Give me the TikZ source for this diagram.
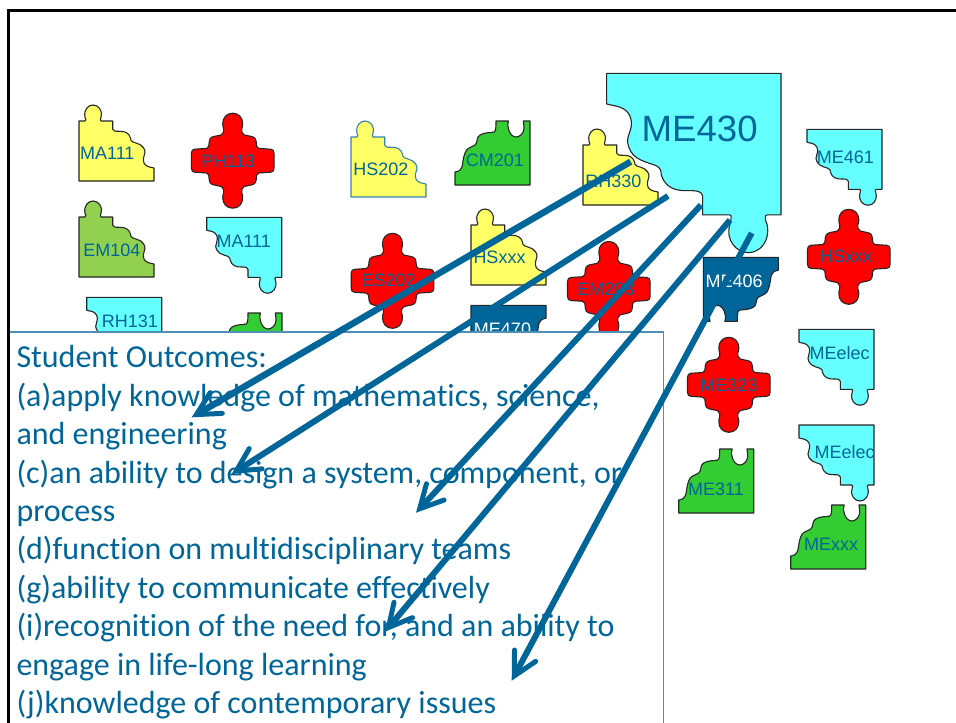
\documentclass[tikz,border=0pt]{standalone}
\usepackage{fontspec}
\setmainfont{Liberation Sans}
\newfontfamily\bodyfont[Ligatures=NoCommon]{Carlito}
\usetikzlibrary{arrows.meta}
\definecolor{labelblue}{HTML}{006699}
\definecolor{boxline}{HTML}{4F8FB5}
\definecolor{pyellow}{HTML}{FFFF66}
\definecolor{pcyan}{HTML}{66FFFF}
\definecolor{pgreen}{HTML}{33CC33}
\definecolor{polive}{HTML}{92D050}
\definecolor{pred}{HTML}{FF0000}
\newcommand{\stepknobpath}{(0,0) -- (0,60) -- (6,60) .. controls (7,60) and (7,62) .. (6,64) .. controls (4.5,71) and (9,76) .. (14,76) .. controls (19,76) and (24,71) .. (22,64) .. controls (21.5,62) and (21,60) .. (22,60) -- (33.7,60) -- (33.7,52) .. controls (34,50) and (36,49.7) .. (40,49.7) .. controls (46,50) and (50,48) .. (51.5,43) .. controls (51.5,41) and (52,40) .. (54,39) .. controls (60,37) and (65,36) .. (66,29) .. controls (66,25) and (63,23) .. (65,18) .. controls (67,14) and (71,14) .. (75,13) -- (75,0) -- cycle}
\newcommand{\stepnotchpath}{(0,0) -- (0,13) .. controls (4,13.5) and (6,15) .. (7,18) .. controls (8,22) and (8,27) .. (10,32) .. controls (11,37) and (17,38) .. (20,40) .. controls (23,42) and (21,48) .. (25,50) .. controls (30,53) and (36,52) .. (39,53) .. controls (41,54) and (41,58) .. (41,64) -- (53.5,64) .. controls (53,62) and (52.5,60) .. (53,58) .. controls (54,51) and (58,48) .. (61,48) .. controls (65,48) and (69,52) .. (69,57) .. controls (69,60) and (68.5,62) .. (68.3,64) -- (75,64) -- (75,0) -- cycle}
\newcommand{\crosspath}{(0,47.5) .. controls (6,47.5) and (10,43) .. (10,37) .. controls (10,32) and (8,32) .. (9,29) .. controls (10,26) and (12,25) .. (15,25) .. controls (20,24) and (23,24) .. (23.5,19) .. controls (24,15) and (23.5,13) .. (26,12.3) -- (38,11.5) .. controls (40,11.5) and (41.3,10) .. (41.3,7.5) -- (41.3,0) -- (41.3,-7.5) .. controls (41.3,-10) and (40,-11.5) .. (38,-11.5) -- (26,-12.3) .. controls (23.5,-13) and (24,-15) .. (23.5,-19) .. controls (23,-24) and (20,-24) .. (15,-25) .. controls (12,-25) and (10,-26) .. (9,-29) .. controls (8,-32) and (10,-32) .. (10,-37) .. controls (10,-43) and (6,-47.5) .. (0,-47.5) .. controls (-6,-47.5) and (-10,-43) .. (-10,-37) .. controls (-10,-32) and (-8,-32) .. (-9,-29) .. controls (-10,-26) and (-12,-25) .. (-15,-25) .. controls (-20,-24) and (-23,-24) .. (-23.5,-19) .. controls (-24,-15) and (-23.5,-13) .. (-26,-12.3) -- (-38,-11.5) .. controls (-40,-11.5) and (-41.3,-10) .. (-41.3,-7.5) -- (-41.3,0) -- (-41.3,7.5) .. controls (-41.3,10) and (-40,11.5) .. (-38,11.5) -- (-26,12.3) .. controls (-23.5,13) and (-24,15) .. (-23.5,19) .. controls (-23,24) and (-20,24) .. (-15,25) .. controls (-12,25) and (-10,26) .. (-9,29) .. controls (-8,32) and (-10,32) .. (-10,37) .. controls (-10,43) and (-6,47.5) .. (0,47.5) -- cycle}
% piece placers: #1 left, #2 top, #3 style
\newcommand{\knobup}[3]{\draw[piece,#3,shift={(#1,#2+76)},yscale=-1] \stepknobpath;}
\newcommand{\knobdown}[3]{\draw[piece,#3,shift={(#1+75,#2)},xscale=-1] \stepknobpath;}
\newcommand{\notchup}[3]{\draw[piece,#3,shift={(#1,#2+64)},yscale=-1] \stepnotchpath;}
\newcommand{\notchdown}[3]{\draw[piece,#3,shift={(#1+75,#2)},xscale=-1] \stepnotchpath;}
\newcommand{\crossat}[2]{\draw[piece,fill=pred,shift={(#1,#2)}] \crosspath;}
\tikzset{
  piece/.style={draw=black!85,line width=1.1pt,line join=round},
  plabel/.style={text=labelblue,font=\fontsize{18}{20}\selectfont,inner sep=0pt},
  outcome/.style={draw=labelblue,line width=#1,-{Straight Barb[length=23pt,width=24pt,line width=5pt,line cap=round,line join=miter]}},
  outcome/.default=6pt,
}
\begin{document}
\begin{tikzpicture}[x=1pt,y=-1pt]
\useasboundingbox (0,0) rectangle (956,723);
\fill[white] (0,0) rectangle (956,723);
\draw[black,line width=3pt] (8.5,723) -- (8.5,10.5) -- (956,10.5);
% yellow
\knobup{79}{105}{fill=pyellow}
\knobup{79}{201}{fill=polive}
\knobup{351}{121}{fill=pyellow,draw=labelblue!80}
\knobup{583}{129}{fill=pyellow}
\knobup{471}{209}{fill=pyellow}
% cyan
\knobdown{206.7}{217.3}{fill=pcyan}
\knobdown{86.7}{297.3}{fill=pcyan}
\knobdown{807}{129.3}{fill=pcyan}
\knobdown{799}{329.3}{fill=pcyan}
\knobdown{799}{425}{fill=pcyan}
% green
\notchup{455}{121}{fill=pgreen}
\notchup{678.7}{449}{fill=pgreen}
\notchup{790.7}{505}{fill=pgreen}
\notchup{207}{313}{fill=pgreen}
% dark blue
\notchdown{703.3}{257.3}{fill=labelblue}
\notchdown{471}{305.3}{fill=labelblue}
% red
\crossat{232.7}{160.7}
\crossat{392.5}{280.8}
\crossat{608.8}{289}
\crossat{848.8}{256.8}
\crossat{728.8}{384.8}
% large
\draw[piece,fill=pcyan,shift={(781,73.3)},xscale=-2.325,yscale=2.36] \stepknobpath;
% labels
\node[plabel] (a) at (107.3,153.3) {MA111};
\node[plabel] (b) at (228.3,161) {PH113};
\node[plabel] (c) at (111.8,250) {EM104};
\node[plabel] (d) at (243.7,241.7) {MA111};
\node[plabel] (e) at (129.8,321.7) {RH131};
\node[plabel] (f) at (380.8,169.3) {HS202};
\node[plabel] (g) at (495,160.7) {CM201};
\node[plabel] (h) at (613.3,181.7) {RH330};
\node[plabel,font=\fontsize{36.6}{40}\selectfont] (i) at (699.7,129) {ME430};
\node[plabel] (j) at (499.5,257.3) {HSxxx};
\node[plabel] (k) at (388.7,280.7) {ES202};
\node[plabel] (l) at (605.8,289.3) {EM203};
\node[plabel,text=white] (m) at (502.5,329.3) {ME470};
\node[plabel,text=white] (n) at (734.2,281.7) {ME406};
\node[plabel] (o) at (845.3,157.7) {ME461};
\node[plabel] (p) at (846,256.7) {HSxxx};
\node[plabel] (q) at (839.7,353.3) {MEelec};
\node[plabel] (r) at (844.7,452.3) {MEelec};
\node[plabel] (s) at (729,385.7) {ME323};
\node[plabel] (t) at (716,489) {ME311};
\node[plabel] (u) at (831,544.7) {MExxx};
% text box
\draw[boxline,line width=1.6pt,fill=white] (9,723) -- (9,331.7) -- (663.3,331.7) -- (663.3,723);
\draw[black,line width=3pt] (8.5,723) -- (8.5,320);
\node[anchor=north west,inner sep=0pt,align=left,text=labelblue,
  font=\bodyfont\fontsize{32}{38.4}\selectfont] (outcomes) at (16.3,345.5)
  {Student Outcomes:\\
   (a)apply knowledge of mathematics, science,\\
   and engineering\\
   (c)an ability to design a system, component, or\\
   process\\
   (d)function on multidisciplinary teams\\
   (g)ability to communicate effectively\\
   (i)recognition of the need for, and an ability to\\
   engage in life-long learning\\
   (j)knowledge of contemporary issues};
% arrows
\coordinate (s1) at (630.7,161.7); \coordinate (t1) at (191.7,417.3);
\coordinate (s2) at (668,196);     \coordinate (t2) at (231.7,474);
\coordinate (s3) at (701,205);     \coordinate (t3) at (416,512.7);
\coordinate (s4) at (730,220);     \coordinate (t4) at (385,631.7);
\coordinate (s5) at (751.7,233);   \coordinate (t5) at (511.7,680.7);
\draw[outcome=6.5pt] (s1) -- (t1);
\draw[outcome] (s2) -- (t2);
\draw[outcome] (s3) -- (t3);
\draw[outcome] (s4) -- (t4);
\draw[outcome] (s5) -- (t5);
\end{tikzpicture}
\end{document}
